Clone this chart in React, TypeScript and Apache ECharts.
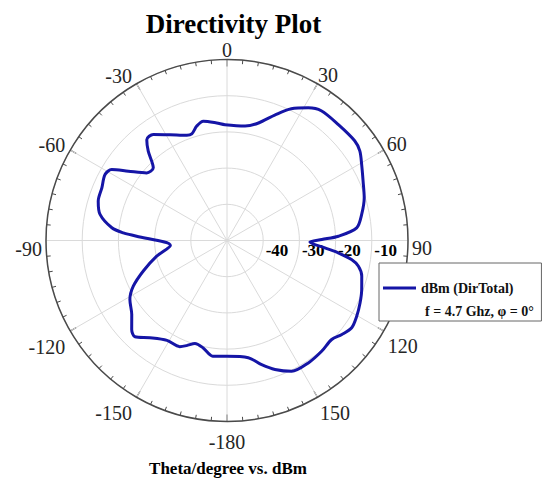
import React, { useEffect, useRef } from 'react';
import * as echarts from 'echarts';

// Theta (degrees, clockwise from 0 at top) and directivity (dBm)
const THETA = [
  -180, -173, -167.5, -162.7, -159, -156, -149, -141.6, -136.3, -133, -127.8, -121.3,
  -116, -110, -102.6, -95, -87.3, -85.8, -83.7, -78.4, -73, -67.2, -61.6, -58.4,
  -54.9, -49.9, -45.4, -41.4, -38.5, -34.8, -28.3, -20.9, -18.3, -14.8, -11.2, -5,
  -1, 9, 15, 21, 26, 31.5, 36, 44, 52, 56, 60.6, 66.5,
  72.7, 79, 84.4, 87.8, 89.4, 91, 94.3, 96.3, 98.7, 101.1, 104.8, 110,
  115.1, 120.3, 125, 129.3, 133.4, 139.5, 146.4, 153.7, 159.6, 164.4, 169.7, 180,
];
const DB = [
  -18.0, -17.8, -19.6, -20.2, -18.9, -17.9, -17.8, -15.7, -13.2, -14.0, -16.7, -18.6,
  -21.2, -25.4, -30.1, -34.3, -25.0, -21.3, -18.0, -14.2, -12.8, -12.5, -11.7, -12.6,
  -16.7, -21.0, -21.4, -17.1, -14.4, -14.3, -16.8, -18.9, -19.0, -17.3, -16.4, -17.4,
  -18.0, -18.0, -16.4, -12.8, -9.5, -7.0, -5.7, -5.6, -5.25, -5.75, -7.3, -9.0,
  -10.3, -12.1, -14.0, -19.2, -23.8, -27.1, -22.9, -19.1, -15.2, -13.0, -11.5, -10.4,
  -9.4, -8.5, -7.95, -9.0, -10.2, -9.75, -9.4, -9.7, -12.0, -14.4, -17.1, -18.0,
];
const RADIUS_LABELS = [-40, -30, -20, -10];
const SERIES_NAME = 'dBm (DirTotal)';
const LEGEND_NOTE = 'f = 4.7 Ghz, \u03c6 = 0\u00b0';
const TITLE = 'Directivity Plot';
const SUBTITLE = 'Theta/degree vs. dBm';

const SERIF = "'Liberation Serif', 'DejaVu Serif', serif";

// per-label fine placement: [padTop, padRight, padLeft, lineHeight]
const LABEL_PLACE: Record<number, [number, number, number, number]> = {
  360: [0, 0, 0, 20],
  390: [0, 0, 0.5, 17.5],
  420: [0, 0, 3, 13],
  90: [15, 0, 4, 20],
  120: [9, 0, 4, 20],
  150: [12, 0, 2.5, 20],
  180: [20, 0, 0, 20],
  210: [12, 4.5, 0, 20],
  240: [11, 5, 0, 20],
  270: [17, 4, 0, 20],
  300: [0, 5, 0, 11],
  330: [0, 4.5, 0, 14.5],
};

function angleText(v: number): string {
  let a = Math.round(v) % 360;
  if (a > 180) a -= 360;
  if (a === 180) a = -180;
  return String(a);
}

export default function App() {
  const ref = useRef<HTMLDivElement>(null);
  useEffect(() => {
    if (!ref.current) return;
    const chart = echarts.init(ref.current, undefined, { renderer: 'svg' });
    const rich: Record<string, any> = {};
    Object.keys(LABEL_PLACE).forEach((k) => {
      const [pt, pr, pl, lh] = LABEL_PLACE[Number(k)];
      rich['k' + k] = {
        fontSize: 20,
        fontFamily: SERIF,
        color: '#262626',
        lineHeight: lh,
        padding: [pt, pr, 0, pl],
      };
    });
    const data = THETA.map((t, i) => [DB[i], t < 90 ? t + 360 : t]);
    chart.setOption({
      animation: false,
      backgroundColor: '#fff',
      polar: { center: [227, 240.5], radius: 181 },
      angleAxis: {
        type: 'value',
        min: 90,
        max: 450,
        interval: 30,
        startAngle: 0,
        clockwise: true,
        axisLine: { show: true, lineStyle: { color: '#4a4a4a', width: 1.5 } },
        axisTick: { show: true, inside: true, length: 7, lineStyle: { color: '#4a4a4a', width: 1.2 } },
        minorTick: { show: true, splitNumber: 6, length: 4, lineStyle: { color: '#4a4a4a', width: 1 } },
        splitLine: { show: true, lineStyle: { color: '#dadada', width: 1 } },
        axisLabel: {
          margin: 0,
          fontSize: 20,
          fontFamily: SERIF,
          color: '#262626',
          rich,
          formatter: (v: number) => {
            const key = Math.round(v);
            if (!LABEL_PLACE[key]) return '';
            return `{k${key}|${angleText(v)}}`;
          },
        },
      },
      radiusAxis: {
        type: 'value',
        min: -50,
        max: 0,
        interval: 10,
        axisLine: { show: false },
        axisTick: { show: false },
        splitLine: { show: true, lineStyle: { color: '#dadada', width: 1 } },
        axisLabel: {
          show: true,
          margin: 0,
          align: 'left',
          verticalAlign: 'top',
          padding: [1.5, 0, 0, 2.5],
          fontSize: 17,
          fontWeight: 'bold',
          fontFamily: SERIF,
          color: '#000',
          formatter: (v: number) => (RADIUS_LABELS.indexOf(Math.round(v)) >= 0 ? String(Math.round(v)) : ''),
        },
      },
      legend: {
        data: [{ name: SERIES_NAME, icon: 'rect' }],
        left: 379,
        top: 263,
        orient: 'vertical',
        itemWidth: 33,
        itemHeight: 3,
        padding: [18, 28, 26, 4],
        backgroundColor: '#fff',
        borderColor: '#666',
        borderWidth: 1,
        textStyle: { fontFamily: SERIF, fontWeight: 'bold', fontSize: 14, color: '#111' },
      },
      graphic: [
        {
          type: 'text',
          x: 233.5,
          y: 23.5,
          z: 100,
          style: {
            text: TITLE,
            font: `bold 27px ${SERIF}`,
            fill: '#000',
            align: 'center',
            verticalAlign: 'middle',
          },
        },
        {
          type: 'text',
          x: 228,
          y: 468.5,
          z: 100,
          style: {
            text: SUBTITLE,
            font: `bold 17px ${SERIF}`,
            fill: '#000',
            align: 'center',
            verticalAlign: 'middle',
          },
        },
        {
          type: 'text',
          x: 425,
          y: 311,
          z: 100,
          style: {
            text: LEGEND_NOTE,
            font: `bold 14px ${SERIF}`,
            fill: '#111',
            align: 'left',
            verticalAlign: 'middle',
          },
        },
      ],
      series: [
        {
          name: SERIES_NAME,
          type: 'line',
          coordinateSystem: 'polar',
          data,
          showSymbol: false,
          smooth: 0.3,
          lineStyle: { color: '#1515a6', width: 3 },
          itemStyle: { color: '#1515a6' },
          z: 3,
        },
      ],
    });
    return () => chart.dispose();
  }, []);
  return (
    <div
      ref={ref}
      style={{ position: 'absolute', left: 0, top: 0, width: 550, height: 482 }}
    />
  );
}
